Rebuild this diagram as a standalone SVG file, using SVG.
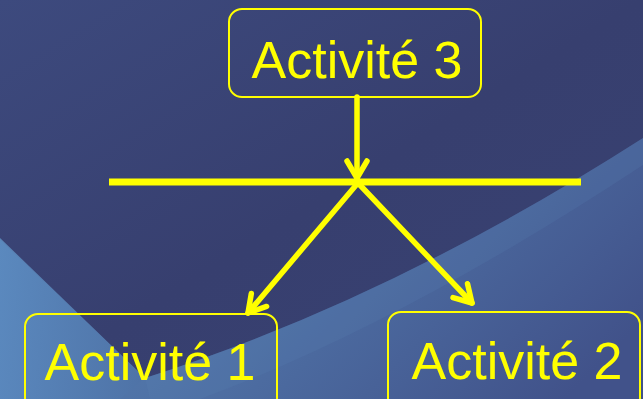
<svg xmlns="http://www.w3.org/2000/svg" width="643" height="399" viewBox="0 0 643 399">
  <defs>
    <linearGradient id="bg" x1="0" y1="0" x2="1" y2="1">
      <stop offset="0" stop-color="#3d4a7e"/>
      <stop offset="0.5" stop-color="#373f6f"/>
      <stop offset="1" stop-color="#394272"/>
    </linearGradient>
    <linearGradient id="swoosh" x1="0" y1="0.3" x2="1" y2="0.7">
      <stop offset="0" stop-color="#5a86b8"/>
      <stop offset="0.45" stop-color="#4f72a6"/>
      <stop offset="1" stop-color="#41528a"/>
    </linearGradient>
    <linearGradient id="band" x1="0" y1="0" x2="1" y2="0">
      <stop offset="0" stop-color="#5b8ac0"/>
      <stop offset="1" stop-color="#4e72a6"/>
    </linearGradient>
    <marker id="head" viewBox="-22 -13 26 26" markerWidth="26" markerHeight="26" refX="0" refY="0" orient="auto" markerUnits="userSpaceOnUse">
      <path d="M-17,-10 L0,0 L-17,10" fill="none" stroke="#ffff00" stroke-width="5.5" stroke-linecap="round" stroke-linejoin="round"/>
    </marker>
    <style>
      .box { fill: none; stroke: #ffff00; stroke-width: 2; }
      .label { font-family: "Liberation Sans", Arial, sans-serif; font-size: 52px; fill: #ffff00; text-anchor: middle; }
      .wire { stroke: #ffff00; stroke-width: 5.5; fill: none; stroke-linecap: round; }
    </style>
  </defs>

  <!-- backdrop -->
  <rect width="643" height="399" fill="url(#bg)"/>
  <path d="M0,238 L145,378 Q390,300 643,138 L643,399 L0,399 Z" fill="url(#swoosh)"/>
  <path d="M0,240 L145,378 L120,399 L0,399 Z" fill="url(#band)" opacity="0.8"/>
  <path d="M145,378 Q390,300 643,138 L643,165 Q400,325 200,399 L150,399 Z" fill="#5c80b4" opacity="0.2"/>

  <!-- connectors -->
  <g id="connectors">
    <line class="wire" x1="357" y1="97" x2="357" y2="178" marker-end="url(#head)"/>
    <line x1="109" y1="182" x2="581" y2="182" stroke="#ffff00" stroke-width="7"/>
    <line class="wire" x1="357" y1="184" x2="248" y2="313" marker-end="url(#head)"/>
    <line class="wire" x1="359" y1="184" x2="472" y2="303" marker-end="url(#head)"/>
  </g>

  <g id="activite3">
    <rect class="box" x="229" y="9" width="252" height="88" rx="13"/>
    <text class="label" x="357" y="78">Activité 3</text>
  </g>

  <g id="activite1">
    <rect class="box" x="25" y="314" width="252" height="100" rx="13"/>
    <text class="label" x="150" y="380">Activité 1</text>
  </g>

  <g id="activite2">
    <rect class="box" x="388" y="312" width="252" height="100" rx="13"/>
    <text class="label" x="517" y="379">Activité 2</text>
  </g>
</svg>
